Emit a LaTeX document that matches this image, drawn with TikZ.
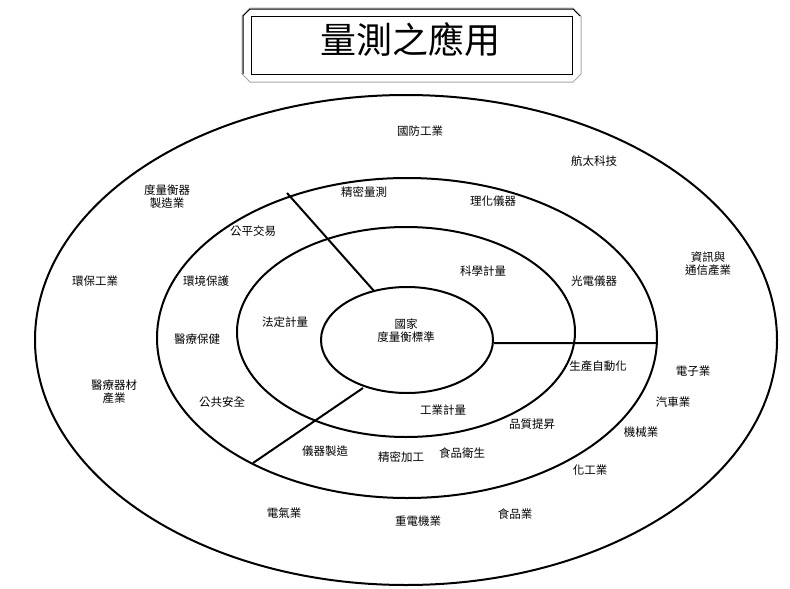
\documentclass[tikz,border=0pt]{standalone}
\usepackage{fontspec}
\newfontfamily\cjk{Noto Sans CJK TC}
\begin{document}
\begin{tikzpicture}[x=1pt,y=-1pt,
  lbl/.style={font=\cjk\fontsize{11.5pt}{13pt}\selectfont,align=center,inner sep=0pt},
  ring/.style={draw,line width=2pt}]
\useasboundingbox (0,0) rectangle (790,589);
% title frame
\draw[gray!70,line width=1pt] (250,8)--(573,8)--(581,16)--(581,74)--(573,82)--(250,82)--(242,74)--(242,16)--cycle;
\draw[line width=1pt] (250,9)--(573,9)--(580,16) (243,74)--(243,16)--(250,9);
\draw[line width=1pt] (251,16) rectangle (572,74);
\node[font=\cjk\fontsize{36pt}{40pt}\selectfont] (title) at (410,40) {量測之應用};
% rings
\draw[ring] (406,340) ellipse [x radius=371,y radius=245];
\draw[ring] (407,338) ellipse [x radius=250,y radius=160];
\draw[ring] (406,332) ellipse [x radius=169,y radius=105];
\draw[ring] (407,340) ellipse [x radius=86,y radius=53];
\coordinate (a1) at (287,193); \coordinate (a2) at (374,291);
\coordinate (b1) at (494,343); \coordinate (b2) at (657,343);
\coordinate (c1) at (253,463); \coordinate (c2) at (363,388);
\draw[line width=2pt] (a1)--(a2) (b1)--(b2) (c1)--(c2);
% labels
\node[lbl] (n1) at (420,131) {國防工業};
\node[lbl] (n2) at (594,161) {航太科技};
\node[lbl] (n3) at (167,197) {度量衡器\\製造業};
\node[lbl] (n4) at (364,192) {精密量測};
\node[lbl] (n5) at (493,201) {理化儀器};
\node[lbl] (n6) at (253,231) {公平交易};
\node[lbl] (n7) at (708,264) {資訊與\\通信產業};
\node[lbl] (n8) at (95,281) {環保工業};
\node[lbl] (n9) at (483,271) {科學計量};
\node[lbl] (n10) at (594,281) {光電儀器};
\node[lbl] (n11) at (206,281) {環境保護};
\node[lbl] (n12) at (285,322) {法定計量};
\node[lbl] (n13) at (406,331) {國家\\度量衡標準};
\node[lbl] (n14) at (197,339) {醫療保健};
\node[lbl] (n15) at (598,366) {生產自動化};
\node[lbl] (n16) at (693,371) {電子業};
\node[lbl] (n17) at (114,392) {醫療器材\\產業};
\node[lbl] (n18) at (222,402) {公共安全};
\node[lbl] (n19) at (673,402) {汽車業};
\node[lbl] (n20) at (443,410) {工業計量};
\node[lbl] (n21) at (532,424) {品質提昇};
\node[lbl] (n22) at (641,432) {機械業};
\node[lbl] (n23) at (325,451) {儀器製造};
\node[lbl] (n24) at (401,457) {精密加工};
\node[lbl] (n25) at (462,453) {食品衛生};
\node[lbl] (n26) at (590,470) {化工業};
\node[lbl] (n27) at (284,513) {電氣業};
\node[lbl] (n28) at (418,521) {重電機業};
\node[lbl] (n29) at (515,514) {食品業};
\end{tikzpicture}
\end{document}
